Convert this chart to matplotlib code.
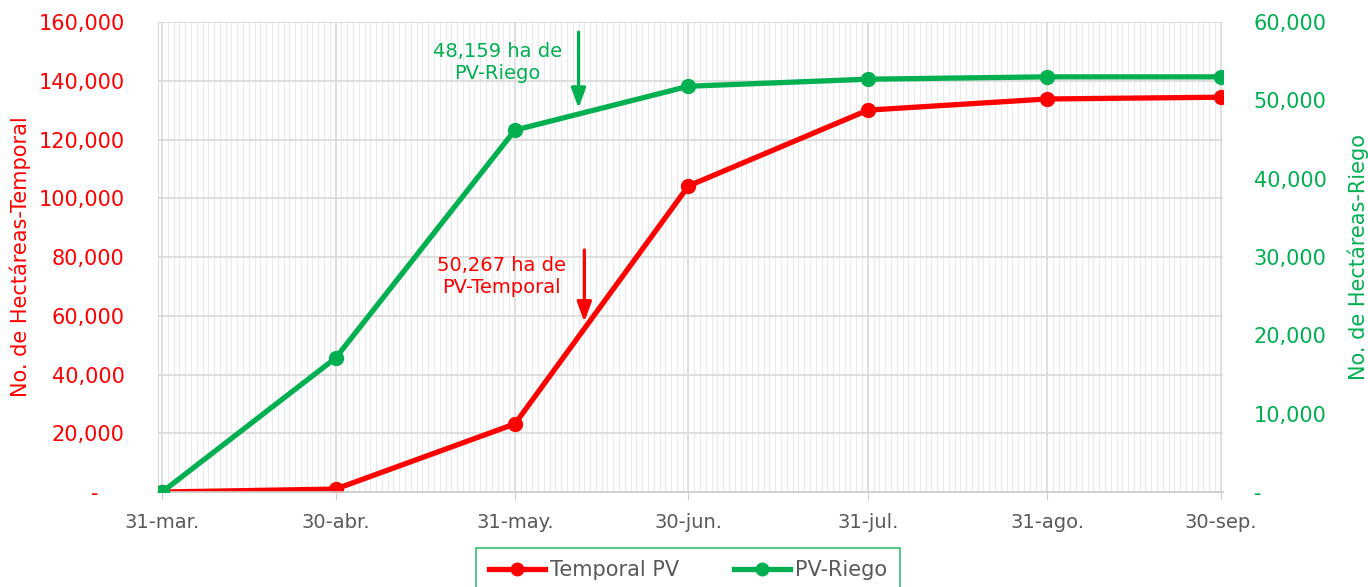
import numpy as np
import matplotlib
matplotlib.use("Agg")
import matplotlib.pyplot as plt
import matplotlib.dates as mdates
from matplotlib.ticker import FixedLocator, FuncFormatter, MultipleLocator

plt.rcParams['font.family'] = ['DejaVu Sans']

fechas = np.array(['2021-03-31', '2021-04-30', '2021-05-31', '2021-06-30',
                   '2021-07-31', '2021-08-31', '2021-09-30'], dtype='datetime64[D]')
etiquetas = ["31-mar.", "30-abr.", "31-may.", "30-jun.", "31-jul.", "31-ago.", "30-sep."]
temporal = [0, 1000, 23200, 104200, 130000, 133800, 134400]
riego = [0, 17100, 46200, 51800, 52700, 53000, 53000]

rojo = '#FF0000'
verde = '#00B050'
gris = '#595959'

x = mdates.date2num(fechas.astype('datetime64[s]').astype(object))

fig, ax = plt.subplots(figsize=(13.68, 5.87), dpi=100)
fig.subplots_adjust(left=0.1155, right=0.8940, top=0.9625, bottom=0.1618)
ax2 = ax.twinx()

l1, = ax.plot(x, temporal, color=rojo, lw=3.8, marker='o', ms=10, label='Temporal PV', zorder=5)
l2, = ax2.plot(x, riego, color=verde, lw=3.8, marker='o', ms=10, label='PV-Riego', zorder=5)

ax.set_xlim(x[0] - 0.7, x[-1] + 0.4)
ax.set_ylim(0, 160000)
ax2.set_ylim(0, 60000)

ax.xaxis.set_major_locator(FixedLocator(x))
ax.set_xticklabels(etiquetas)
ax.xaxis.set_minor_locator(mdates.DayLocator())
ax.yaxis.set_major_locator(MultipleLocator(20000))
ax2.yaxis.set_major_locator(MultipleLocator(10000))

ax.yaxis.set_major_formatter(FuncFormatter(lambda v, p: '-    ' if v == 0 else f'{v:,.0f}'))
ax2.yaxis.set_major_formatter(FuncFormatter(lambda v, p: '-' if v == 0 else f'{v:,.0f}'))

ax.grid(which='minor', axis='x', color='#ebebeb', lw=0.9)
ax.grid(which='major', axis='x', color='#d9d9d9', lw=1.2)
ax.grid(which='major', axis='y', color='#d9d9d9', lw=1.2)
ax.set_axisbelow(True)

for a in (ax, ax2):
    for s in ('top', 'right', 'left'):
        a.spines[s].set_visible(False)
    a.spines['bottom'].set_color('#d0d0d0')
    a.spines['bottom'].set_linewidth(1.2)
ax.spines['left'].set_visible(True)
ax.spines['left'].set_color('#d9d9d9')

ax.tick_params(axis='x', which='major', length=6, color='#d0d0d0', labelsize=14, labelcolor=gris, pad=9)
ax.tick_params(axis='x', which='minor', length=0)
ax.tick_params(axis='y', length=0, labelsize=15, labelcolor=rojo, pad=24)
ax2.tick_params(axis='y', length=0, labelsize=15, labelcolor=verde, pad=22)

ax.set_ylabel('No. de Hectáreas-Temporal', color=rojo, fontsize=15)
ax.yaxis.set_label_coords(-0.119, 0.5)
ax2.set_ylabel('No. de Hectáreas-Riego', color=verde, fontsize=15)
ax2.yaxis.set_label_coords(1.117, 0.5)

# anotaciones
d_flecha_v = mdates.date2num(np.datetime64('2021-06-11').astype(object))
d_flecha_r = mdates.date2num(np.datetime64('2021-06-12').astype(object))
d_texto = mdates.date2num(np.datetime64('2021-05-28').astype(object))

estilo = '-|>,head_width=0.22,head_length=0.6'
ax2.annotate('', xy=(d_flecha_v, 49000), xytext=(d_flecha_v, 58700),
             arrowprops=dict(arrowstyle=estilo, mutation_scale=20, color=verde, lw=2.3, shrinkA=0, shrinkB=0))
ax2.text(d_texto, 54800, '48,159 ha de\nPV-Riego', color=verde, fontsize=14, ha='center', va='center', linespacing=1.2)

ax.annotate('', xy=(d_flecha_r, 57900), xytext=(d_flecha_r, 82400),
            arrowprops=dict(arrowstyle=estilo, mutation_scale=20, color=rojo, lw=2.3, shrinkA=0, shrinkB=0))
ax.text(d_texto + 0.6, 73500, '50,267 ha de\nPV-Temporal', color=rojo, fontsize=14, ha='center', va='center', linespacing=1.2)

leg = fig.legend([l1, l2], ['Temporal PV', 'PV-Riego'], loc='upper center',
                 bbox_to_anchor=(688 / 1368, 1 - 548 / 587), ncol=2, frameon=True,
                 fancybox=False, fontsize=15, handlelength=2.7, columnspacing=2.6,
                 borderpad=0.6, handletextpad=0.25, borderaxespad=0)
leg.get_frame().set_edgecolor(verde)
leg.get_frame().set_linewidth(1.2)
for t in leg.get_texts():
    t.set_color(gris)
for h in leg.legend_handles:
    h.set_markersize(9)

fig.savefig('out.png', dpi=100)
